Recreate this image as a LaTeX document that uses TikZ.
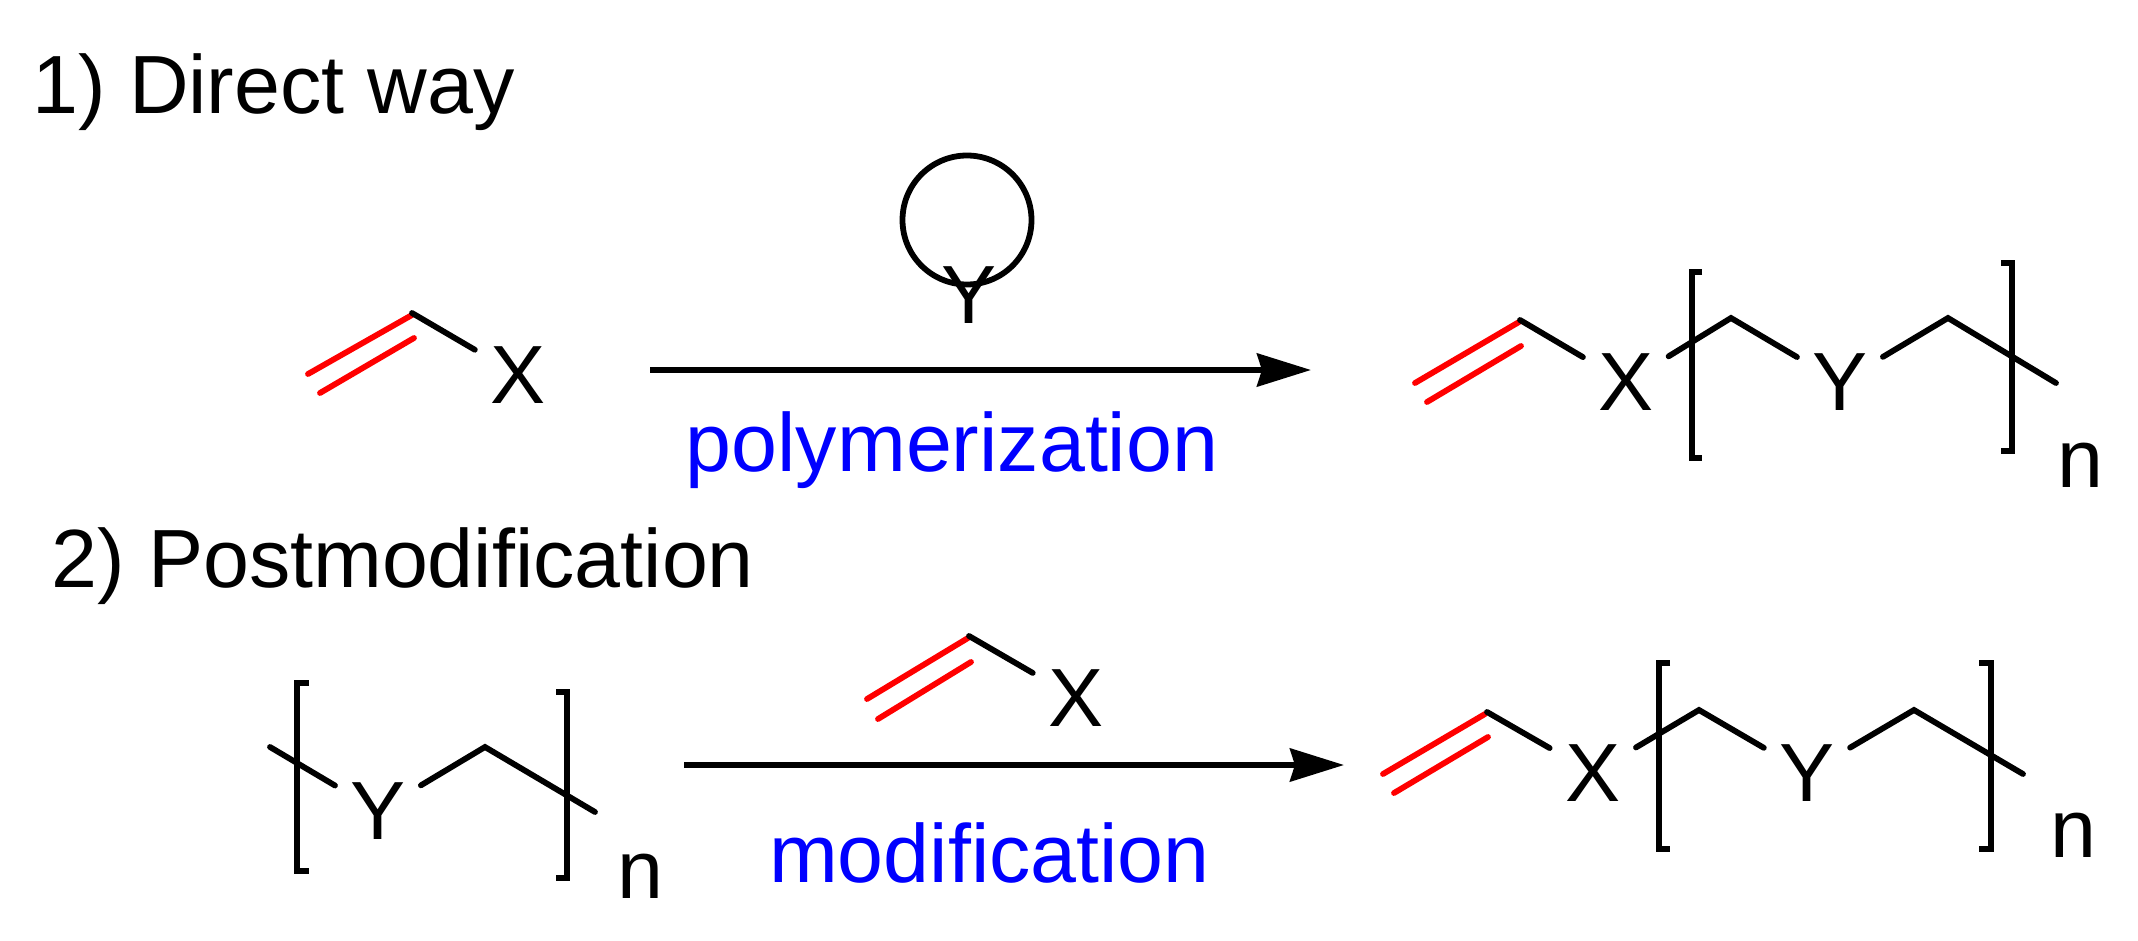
\documentclass[tikz,border=0pt]{standalone}
\usepackage{fontspec}
\setmainfont{Liberation Sans}
\usetikzlibrary{arrows.meta}

\tikzset{bond/.style = {line width=1.65pt, line cap=round},
         redbond/.style = {bond, red},
         brack/.style = {line width=1.65pt},
         rxn/.style = {line width=1.65pt, -{Stealth[length=5.4mm,width=3.3mm,inset=0.5mm]}},
         atom/.style = {circle, inner sep=0pt, outer sep=0pt, minimum size=10mm, font=\fontsize{23.5}{26}\selectfont},
         sub/.style = {anchor=base, inner sep=0pt, font=\fontsize{23.5}{26}\selectfont},
         title/.style = {anchor=base west, inner sep=0pt, font=\fontsize{23.5}{26}\selectfont},
         cond/.style = {anchor=base, inner sep=0pt, text=blue, font=\fontsize{23.5}{26}\selectfont}
        }

\begin{document}
\begin{tikzpicture}
\useasboundingbox (0,0) rectangle (21.38,-9.41);
\node[title] at (0.32,-1.13) (way1) {1) Direct way};
\node[title] at (0.51,-5.87) (way2) {2) Postmodification};

\coordinate (aA) at (3.08,-3.74);
\coordinate (aB) at (4.12,-3.15);
\coordinate (aC) at (3.20,-3.93);
\coordinate (aD) at (4.14,-3.38);
\coordinate (av) at (4.12,-3.13);
\node[atom] at (5.18,-3.75) (ax) {X};
\draw[redbond] (aA) -- (aB);
\draw[redbond] (aC) -- (aD);
\draw[bond] (av) -- (ax);

\node[circle, draw, line width=1.65pt, inner sep=0pt, minimum size=12.9mm] at (9.67,-2.20) (ring) {};
\node[atom] at (9.69,-2.95) (ry) {Y};

\coordinate (s1) at (6.50,-3.70);
\coordinate (t1) at (13.11,-3.70);
\draw[rxn] (s1) -- (t1);
\node[cond] at (9.52,-4.71) (poly) {polymerization};

\coordinate (bA) at (14.15,-3.83);
\coordinate (bB) at (15.19,-3.22);
\coordinate (bC) at (14.27,-4.02);
\coordinate (bD) at (15.21,-3.46);
\coordinate (bv) at (15.20,-3.20);
\node[atom] at (16.26,-3.825) (bx) {X};
\coordinate (bc1) at (17.31,-3.18);
\node[atom] at (18.40,-3.825) (by) {Y};
\coordinate (bc2) at (19.48,-3.18);
\coordinate (bend) at (20.56,-3.83);
\draw[redbond] (bA) -- (bB);
\draw[redbond] (bC) -- (bD);
\draw[bond] (bv) -- (bx);
\draw[bond] (bx) -- (bc1) -- (by);
\draw[bond] (by) -- (bc2) -- (bend);
\draw[brack] (17.02,-2.72) -- (16.92,-2.72) -- (16.92,-4.58) -- (17.02,-4.58);
\draw[brack] (20.01,-2.63) -- (20.12,-2.63) -- (20.12,-4.51) -- (20.01,-4.51);
\node[sub] at (20.80,-4.87) (bn) {n};

\coordinate (m0) at (2.70,-7.47);
\node[atom] at (3.78,-8.11) (my) {Y};
\coordinate (mc) at (4.85,-7.47);
\coordinate (mend) at (5.95,-8.12);
\draw[bond] (m0) -- (my);
\draw[bond] (my) -- (mc) -- (mend);
\draw[brack] (3.09,-6.83) -- (2.97,-6.83) -- (2.97,-8.71) -- (3.09,-8.71);
\draw[brack] (5.56,-6.92) -- (5.67,-6.92) -- (5.67,-8.78) -- (5.56,-8.78);
\node[sub] at (6.40,-8.98) (mn) {n};

\coordinate (rA) at (8.67,-6.99);
\coordinate (rB) at (9.68,-6.38);
\coordinate (rC) at (8.78,-7.19);
\coordinate (rD) at (9.71,-6.62);
\coordinate (rv) at (9.69,-6.36);
\node[atom] at (10.76,-6.98) (rx) {X};
\draw[redbond] (rA) -- (rB);
\draw[redbond] (rC) -- (rD);
\draw[bond] (rv) -- (rx);

\coordinate (s2) at (6.84,-7.65);
\coordinate (t2) at (13.44,-7.65);
\draw[rxn] (s2) -- (t2);
\node[cond] at (9.895,-8.82) (modif) {modification};

\coordinate (dA) at (13.83,-7.74);
\coordinate (dB) at (14.85,-7.14);
\coordinate (dC) at (13.94,-7.93);
\coordinate (dD) at (14.88,-7.37);
\coordinate (dv) at (14.87,-7.12);
\node[atom] at (15.93,-7.73) (dx) {X};
\coordinate (dc1) at (16.99,-7.10);
\node[atom] at (18.07,-7.73) (dy) {Y};
\coordinate (dc2) at (19.14,-7.10);
\coordinate (dend) at (20.23,-7.74);
\draw[redbond] (dA) -- (dB);
\draw[redbond] (dC) -- (dD);
\draw[bond] (dv) -- (dx);
\draw[bond] (dx) -- (dc1) -- (dy);
\draw[bond] (dy) -- (dc2) -- (dend);
\draw[brack] (16.70,-6.63) -- (16.59,-6.63) -- (16.59,-8.49) -- (16.70,-8.49);
\draw[brack] (19.79,-6.63) -- (19.91,-6.63) -- (19.91,-8.49) -- (19.79,-8.49);
\node[sub] at (20.73,-8.57) (dn) {n};
\end{tikzpicture}
\end{document}
